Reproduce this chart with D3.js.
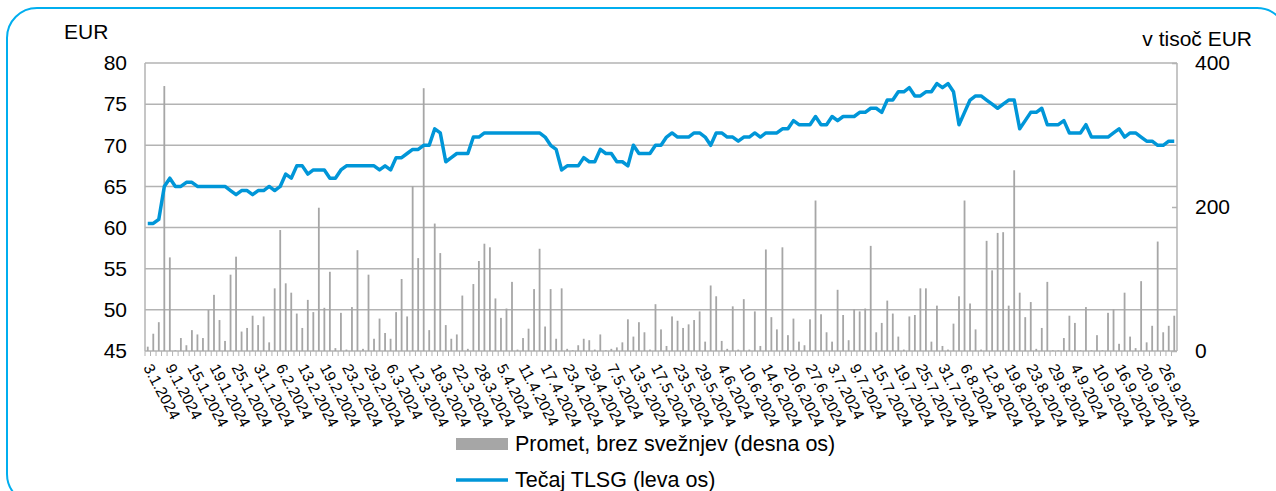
<!DOCTYPE html>
<html>
<head>
<meta charset="utf-8">
<script src="https://cdn.jsdelivr.net/npm/d3@7"></script>
<style>
  body { margin: 0; background: #fff; }
  svg { display: block; font-family: "Liberation Sans", Arial, sans-serif; }
</style>
</head>
<body>
<div id="chart"></div>
<script>
// trading days 2024 (Ljubljana)
var dates = [
  "3.1","4.1","5.1","8.1","9.1","10.1","11.1","12.1","15.1","16.1","17.1","18.1","19.1","22.1","23.1","24.1","25.1","26.1","29.1","30.1","31.1",
  "1.2","2.2","5.2","6.2","7.2","9.2","12.2","13.2","14.2","15.2","16.2","19.2","20.2","21.2","22.2","23.2","26.2","27.2","28.2","29.2",
  "1.3","4.3","5.3","6.3","7.3","8.3","11.3","12.3","13.3","14.3","15.3","18.3","19.3","20.3","21.3","22.3","25.3","26.3","27.3","28.3",
  "2.4","3.4","4.4","5.4","8.4","9.4","10.4","11.4","12.4","15.4","16.4","17.4","18.4","19.4","22.4","23.4","24.4","25.4","26.4","29.4","30.4",
  "3.5","6.5","7.5","8.5","9.5","10.5","13.5","14.5","15.5","16.5","17.5","20.5","21.5","22.5","23.5","24.5","27.5","28.5","29.5","30.5","31.5",
  "3.6","4.6","5.6","6.6","7.6","10.6","11.6","12.6","13.6","14.6","17.6","18.6","19.6","20.6","21.6","24.6","26.6","27.6","28.6",
  "1.7","2.7","3.7","4.7","5.7","8.7","9.7","10.7","11.7","12.7","15.7","16.7","17.7","18.7","19.7","22.7","23.7","24.7","25.7","26.7","29.7","30.7","31.7",
  "1.8","2.8","5.8","6.8","7.8","8.8","9.8","12.8","13.8","14.8","16.8","19.8","20.8","21.8","22.8","23.8","26.8","27.8","28.8","29.8","30.8",
  "2.9","3.9","4.9","5.9","6.9","9.9","10.9","11.9","12.9","13.9","16.9","17.9","18.9","19.9","20.9","23.9","24.9","25.9","26.9","27.9","30.9"
].map(function (d) { return d + ".2024"; });

// Tečaj TLSG (EUR)
var price = [
  60.5,60.5,61,65,66,65,65,65.5,65.5,65,65,65,65,65,65,64.5,64,64.5,64.5,64,64.5,
  64.5,65,64.5,65,66.5,66,67.5,67.5,66.5,67,67,67,66,66,67,67.5,67.5,67.5,67.5,67.5,
  67.5,67,67.5,67,68.5,68.5,69,69.5,69.5,70,70,72,71.5,68,68.5,69,69,69,71,71,
  71.5,71.5,71.5,71.5,71.5,71.5,71.5,71.5,71.5,71.5,71.5,71,70,69.5,67,67.5,67.5,67.5,68.5,68,68,
  69.5,69,69,68,68,67.5,70,69,69,69,70,70,71,71.5,71,71,71,71.5,71.5,71,70,
  71.5,71.5,71,71,70.5,71,71,71.5,71,71.5,71.5,71.5,72,72,73,72.5,72.5,72.5,73.5,
  72.5,72.5,73.5,73,73.5,73.5,73.5,74,74,74.5,74.5,74,75.5,75.5,76.5,76.5,77,76,76,76.5,76.5,77.5,77,
  77.5,76.5,72.5,74,75.5,76,76,75.5,75,74.5,75,75.5,75.5,72,73,74,74,74.5,72.5,72.5,72.5,
  73,71.5,71.5,71.5,72.5,71,71,71,71,71.5,72,71,71.5,71.5,71,70.5,70.5,70,70,70.5,70.5
];

// Promet, brez svežnjev (v tisoč EUR)
var turnover = [
  6,24,40,368,130,1,18,8,29,23,18,57,78,43,14,106,131,27,32,49,36,
  48,12,87,168,94,81,52,32,71,54,199,60,110,4,53,2,61,140,3,106,
  17,45,25,17,54,100,48,229,129,365,29,177,136,36,17,23,77,3,93,125,
  149,144,73,46,59,96,2,18,31,86,142,34,86,17,87,3,1,8,17,15,2,
  23,1,3,5,12,44,20,40,26,2,65,30,7,48,42,32,37,43,55,13,91,
  76,14,3,62,2,72,2,55,7,141,47,30,144,22,45,13,8,44,209,
  51,26,13,85,50,15,58,55,59,146,26,39,70,52,20,2,48,50,87,87,13,63,7,
  2,38,76,209,66,30,2,153,112,164,165,63,251,81,47,68,3,32,96,1,1,
  18,49,39,1,61,1,22,1,53,58,10,81,20,4,97,12,35,152,26,35,49
];

var tickLabels = [
  "3.1.2024","9.1.2024","15.1.2024","19.1.2024","25.1.2024","31.1.2024","6.2.2024","13.2.2024",
  "19.2.2024","23.2.2024","29.2.2024","6.3.2024","12.3.2024","18.3.2024","22.3.2024","28.3.2024",
  "5.4.2024","11.4.2024","17.4.2024","23.4.2024","29.4.2024","7.5.2024","13.5.2024","17.5.2024",
  "23.5.2024","29.5.2024","4.6.2024","10.6.2024","14.6.2024","20.6.2024","27.6.2024","3.7.2024",
  "9.7.2024","15.7.2024","19.7.2024","25.7.2024","31.7.2024","6.8.2024","12.8.2024","19.8.2024",
  "23.8.2024","29.8.2024","4.9.2024","10.9.2024","16.9.2024","20.9.2024","26.9.2024"
];
var leftTicks = [45, 50, 55, 60, 65, 70, 75, 80];
var rightTicks = [0, 200, 400];

var W = 1276, H = 491;
var plot = {left: 145, right: 1177, top: 63, bottom: 351};
var gridColor = "#b3b3b3", barColor = "#a6a6a6", lineColor = "#0096d8";

var svg = d3.select("#chart").append("svg")
    .attr("width", W)
    .attr("height", H);

// frame round the whole chart
svg.append("rect")
    .attr("x", 7).attr("y", 8)
    .attr("width", 1280).attr("height", 496)
    .attr("rx", 30).attr("ry", 30)
    .attr("fill", "none")
    .attr("stroke", "#00aeef")
    .attr("stroke-width", 2);

var x = d3.scaleBand()
    .domain(dates)
    .range([plot.left, plot.right])
    .paddingInner(0)
    .paddingOuter(0);

var y = d3.scaleLinear().domain([45, 80]).range([plot.bottom, plot.top]);
var y2 = d3.scaleLinear().domain([0, 400]).range([plot.bottom, plot.top]);

// gridlines
svg.append("g")
    .selectAll("line")
    .data(leftTicks)
    .enter()
    .append("line")
    .attr("x1", plot.left).attr("x2", plot.right)
    .attr("y1", function (d) { return y(d); })
    .attr("y2", function (d) { return y(d); })
    .attr("stroke", gridColor)
    .attr("stroke-width", 1.5);

// side lines of the plot area
svg.append("g")
    .selectAll("line")
    .data([plot.left, plot.right])
    .enter()
    .append("line")
    .attr("x1", function (d) { return d; })
    .attr("x2", function (d) { return d; })
    .attr("y1", plot.top).attr("y2", plot.bottom)
    .attr("stroke", gridColor)
    .attr("stroke-width", 1.5);

// category tick marks
svg.append("g")
    .selectAll("line")
    .data(dates)
    .enter()
    .append("line")
    .attr("x1", function (d) { return x(d); })
    .attr("x2", function (d) { return x(d); })
    .attr("y1", plot.bottom).attr("y2", plot.bottom + 5)
    .attr("stroke", gridColor)
    .attr("stroke-width", 1);

// turnover bars
svg.append("g")
    .selectAll("rect")
    .data(turnover)
    .enter()
    .append("rect")
    .attr("x", function (d, i) { return x(dates[i]) + x.bandwidth() / 2 - 0.9; })
    .attr("y", function (d) { return y2(d); })
    .attr("width", 1.8)
    .attr("height", function (d) { return plot.bottom - y2(d); })
    .attr("fill", barColor);

// price line
var line = d3.line()
    .x(function (d, i) { return x(dates[i]) + x.bandwidth() / 2; })
    .y(function (d) { return y(d); });

svg.append("path")
    .datum(price)
    .attr("d", line)
    .attr("fill", "none")
    .attr("stroke", lineColor)
    .attr("stroke-width", 3.5)
    .attr("stroke-linejoin", "round");

// left axis
var yAxis = svg.append("g")
    .attr("transform", "translate(" + plot.left + ",0)")
    .call(d3.axisLeft(y).tickValues(leftTicks).tickSize(0).tickPadding(18));
yAxis.select(".domain").remove();
yAxis.selectAll("text")
    .attr("font-size", "21px")
    .attr("font-family", "Liberation Sans, Arial, sans-serif")
    .attr("fill", "#000");

// right axis
var y2Axis = svg.append("g")
    .attr("transform", "translate(" + plot.right + ",0)")
    .call(d3.axisRight(y2).tickValues(rightTicks).tickSizeInner(-5).tickSizeOuter(0).tickPadding(18));
y2Axis.select(".domain").remove();
y2Axis.selectAll("line").attr("stroke", gridColor).attr("stroke-width", 1.5);
y2Axis.selectAll("text")
    .attr("font-size", "21px")
    .attr("font-family", "Liberation Sans, Arial, sans-serif")
    .attr("fill", "#000");

// date labels
svg.append("g")
    .selectAll("text")
    .data(tickLabels)
    .enter()
    .append("text")
    .attr("transform", function (d) {
        return "translate(" + (x(d) + x.bandwidth() / 2) + "," + (plot.bottom + 14) + ") rotate(62)";
    })
    .attr("dy", "0.35em")
    .attr("text-anchor", "start")
    .attr("font-size", "15.5px")
    .attr("fill", "#000")
    .text(function (d) { return d; });

// axis titles
svg.append("text")
    .attr("x", 64).attr("y", 39)
    .attr("font-size", "21px")
    .text("EUR");

svg.append("text")
    .attr("x", 1252).attr("y", 46)
    .attr("text-anchor", "end")
    .attr("font-size", "21px")
    .text("v tisoč EUR");

// legend
svg.append("rect")
    .attr("x", 456).attr("y", 438)
    .attr("width", 52).attr("height", 12)
    .attr("fill", barColor);
svg.append("text")
    .attr("x", 515).attr("y", 451)
    .attr("font-size", "21.5px")
    .text("Promet, brez svežnjev (desna os)");

svg.append("line")
    .attr("x1", 456).attr("x2", 508)
    .attr("y1", 480).attr("y2", 480)
    .attr("stroke", lineColor)
    .attr("stroke-width", 3.5);
svg.append("text")
    .attr("x", 515).attr("y", 487)
    .attr("font-size", "21.5px")
    .text("Tečaj TLSG (leva os)");
</script>
</body>
</html>
